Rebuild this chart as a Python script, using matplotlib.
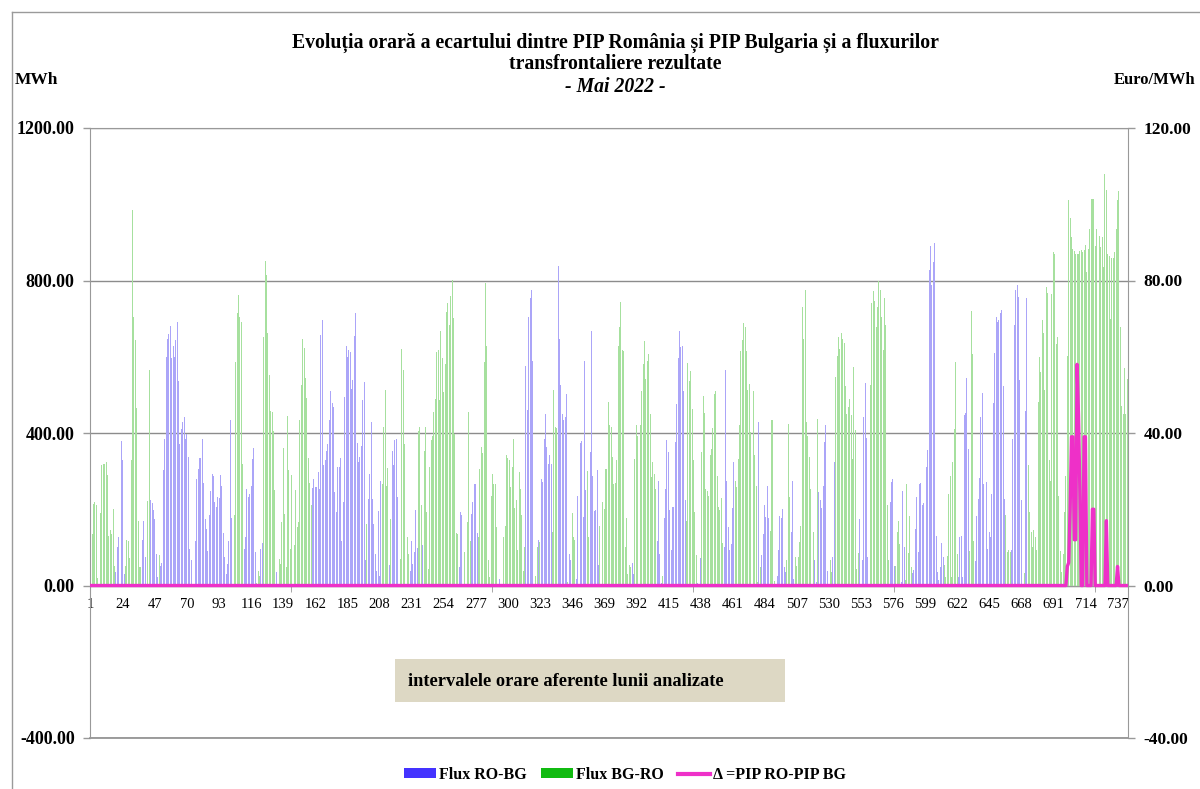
import matplotlib.pyplot as plt
import numpy as np
from matplotlib.lines import Line2D
from matplotlib.patches import Patch, Rectangle

# flux orar net pe zile (MWh): >0 = Flux BG-RO, <0 = Flux RO-BG
flux_zile = [
    [15, 135, 215, 220, 210, 20, 0, 190, 315, 320, 320, 325, 290, 130, 145, 135, 200, 52, -35, -100, -128, -205, -378, -330],
    [-29, 52, 120, 116, 72, 328, 985, 705, 644, 466, 170, 48, 48, -120, -170, -76, 0, 221, 565, -225, -216, -198, -175, -83],
    [-22, 81, -52, -58, -303, -385, -600, -647, -660, -680, -597, -628, -600, -644, -690, -537, -370, -411, -428, -441, -385, -398, -336, -96],
    [-66, 0, -4, -116, -280, -306, -334, -334, -385, -268, -175, -149, -90, -185, -249, -293, -286, -218, -205, -233, -229, -291, -262, -137],
    [-74, -31, -57, -118, -433, -177, -239, 184, 585, 716, 763, 703, 690, 319, -96, -127, -253, -232, -240, -262, -332, -361, -87, 6],
    [39, 24, -96, -111, 653, 852, 815, 663, 551, 457, 456, 404, 251, -35, 0, 70, 57, 166, 361, 188, 48, 444, 302, 96],
    [291, 99, 105, 251, 153, 166, 434, 527, 647, 623, 545, 492, 335, 268, 212, -256, -280, -258, -258, -297, -253, -658, -697, -315],
    [-330, -354, -370, -435, -511, -480, -469, -244, -192, -310, -310, -335, -116, -218, -494, -629, -600, -619, -612, -515, -539, -655, -714, -374],
    [-323, -338, -367, -487, -534, -67, 162, -226, -293, -428, -227, -162, -83, -39, -195, -24, -274, 267, 415, 513, 262, 309, -55, 175],
    [-352, -315, -382, -385, -232, 0, 70, 621, 565, 371, 118, 127, 83, -38, -118, -57, -87, -198, -99, 406, 415, 212, -107, 354],
    [415, 192, 44, 310, 382, 392, 454, 490, 612, 618, 487, 667, 597, 507, 581, 717, 740, 684, 760, 801, 702, 398, 137, 135],
    [-48, -192, -184, 0, 87, 179, 166, 456, 116, -188, -218, -267, -267, -137, 127, 306, 363, 347, 586, 793, 629, 67, 22, 236],
    [293, 267, 265, 153, 0, -17, 0, 0, 128, 157, 341, 335, 328, 258, 312, 385, 203, 223, 92, 297, 253, 184, 39, 102],
    [-577, -461, -705, -754, -774, -590, 0, 26, 100, -120, 114, -280, -271, -385, -450, -363, -319, -343, -319, 140, 513, 415, 413, -838],
    [-647, -526, -450, -434, -443, -503, 9, -83, -66, 190, 128, 120, -17, -236, -350, -373, -380, -179, -590, -251, 300, 128, -350, -667],
    [-286, -195, -198, -302, -55, 157, 0, 218, 201, 306, 306, 481, 420, 417, 338, 265, 268, 330, 629, 679, 743, 618, 614, 102],
    [177, 31, 54, 48, -58, -31, 332, 422, 391, 424, 422, 511, 581, 642, 542, 590, 607, 450, 284, 323, 293, 253, -116, -275],
    [-83, -6, 24, -177, -253, -382, -350, -197, -92, -205, -207, -376, -476, -597, -667, -625, -629, -511, -223, 169, 583, 536, 562, 463],
    [330, 192, 79, -6, 0, -72, 350, 498, 452, 253, 247, 236, 341, 358, 413, 503, 509, 288, 207, 198, 229, 111, -100, -564],
    [-275, -153, -94, -109, -204, -323, 275, 258, 332, 420, 616, 644, 688, 679, 616, 513, 529, 402, 476, 511, 341, 262, 9, -428],
    [48, -79, -135, -210, -179, -260, -177, 144, 433, 433, 13, 0, -26, -92, -181, -177, -201, -48, -35, 67, 424, 232, -140, -275],
    [-17, 74, 52, 74, 114, 157, 731, 647, 775, 428, 391, 336, 253, 166, 140, -66, -9, 437, -245, -223, -204, -260, -376, -420],
    [-38, 0, 66, 35, -74, -323, 546, 603, 653, 621, 662, 647, 635, 524, 450, 468, 489, 448, 332, 572, 408, 44, 85, -175],
    [-4, -67, -441, -530, -387, -76, 0, 526, 740, 772, 747, 679, 731, 800, 775, 703, 618, 754, 682, 210, 66, -218, -271, -280],
    [-52, 52, 140, 170, 109, -9, -249, -100, 15, 267, 85, 181, 48, -32, -41, -149, -233, -87, -265, -268, -210, -216, -258, -310],
    [-356, -828, -891, -787, -848, -898, -131, -35, -15, -48, -111, -74, 55, 22, 77, 240, 286, 22, 323, 411, 586, 83, -22, -127],
    [-131, -22, -446, -453, -544, -358, 90, 721, 607, 116, -64, -181, -227, -282, -443, -506, -267, -175, -271, -96, -140, -127, -240, -478],
    [-609, -705, -690, -697, -714, -723, -522, -227, 186, 87, 92, 87, -92, -385, -682, -775, -789, -758, -538, -223, 0, 32, -457, -754],
    [315, 192, 140, 100, 146, 127, 92, 481, 600, 559, 697, 663, 513, 782, 767, 328, 275, 765, 876, 870, 634, 651, 236, 90],
    [35, 83, 192, 288, 603, 1012, 964, 915, 883, 877, 870, 870, 870, 877, 879, 874, 879, 894, 822, 883, 935, 1014, 1014, 1014],
    [891, 936, 883, 918, 888, 915, 835, 1079, 1037, 870, 865, 699, 859, 860, 874, 936, 1010, 1034, 679, 472, 450, 570, 450, 542],
]

# delta PIP RO - PIP BG (Euro/MWh): zero in zilele 1-29, apoi zilele 30 si 31
delta_z30 = [0, 0, 0, 0, 5, 6, 20, 39, 39, 12, 12, 58, 45, 25, 0, 0, 39, 39, 0, 0, 0, 0, 20, 20]
delta_z31 = [0, 0, 0, 0, 0, 0, 0, 0, 17, 0, 0, 0, 0, 0, 0, 0, 5, 0, 0, 0, 0, 0, 0, 0]

net = np.array(flux_zile, dtype=float).ravel()
ore = np.arange(1, len(net) + 1)
ro_bg = np.where(net < 0, -net, 0)
bg_ro = np.where(net > 0, net, 0)
delta = np.array([0.0] * (24 * 29) + delta_z30 + delta_z31)

W, H = 1200, 789
plt.rcParams['font.family'] = ['Liberation Serif', 'DejaVu Serif']
plt.rcParams['font.weight'] = 'bold'

fig = plt.figure(figsize=(W / 100, H / 100), dpi=100)
ax = fig.add_axes([90 / W, 1 - 738 / H, (1128 - 90) / W, (738 - 128) / H])

ax.bar(ore, ro_bg, width=0.7, color='#aba5f8', linewidth=0, zorder=2)
ax.bar(ore, bg_ro, width=0.7, color='#a6e09e', linewidth=0, zorder=2)

ax.set_xlim(0.5, len(net) + 0.5)
ax.set_ylim(-400, 1200)
yt = [-400, 0, 400, 800, 1200]
ax.set_yticks(yt)
ax.set_yticklabels(['%.2f' % v for v in yt], fontsize=13)
ax.grid(axis='y', color='#8c8c8c', linewidth=1, zorder=0)
ax.set_axisbelow(True)
ax.axhline(-400, color='#8c8c8c', linewidth=1.2, clip_on=False, zorder=1)

ax.spines['bottom'].set_position(('data', 0))
for s in ax.spines.values():
    s.set_color('#999999')
ax.tick_params(axis='y', length=5, width=1, color='#999999', pad=6)

xt = list(range(1, len(net) + 1, 23))
ax.set_xticks(xt)
ax.set_xticklabels([str(v) for v in xt], fontsize=10.5, fontweight='normal')
ax.tick_params(axis='x', length=0, pad=9)
ax.set_xticks([144.5, 288.5, 432.5, 576.5, 720.5], minor=True)
ax.tick_params(axis='x', which='minor', length=4, color='#999999')

ax2 = ax.twinx()
ax2.plot(ore, delta, color='#ee30c8', linewidth=2.4, zorder=5)
ax2.set_ylim(-40, 120)
yt2 = [-40, 0, 40, 80, 120]
ax2.set_yticks(yt2)
ax2.set_yticklabels(['%.2f' % v for v in yt2], fontsize=12.5)
ax2.tick_params(axis='y', length=5, width=1, color='#999999', pad=6)
for s in ax2.spines.values():
    s.set_visible(False)

# titlu si unitati
fig.text(615 / W, 1 - 43 / H, 'Evoluția orară a ecartului dintre PIP România și PIP Bulgaria și a fluxurilor',
         ha='center', va='center', fontsize=14.2)
fig.text(615 / W, 1 - 64 / H, 'transfrontaliere rezultate', ha='center', va='center', fontsize=14.2)
fig.text(615 / W, 1 - 87 / H, '- Mai 2022 -', ha='center', va='center', fontsize=14.2, style='italic')
fig.text(36 / W, 1 - 80 / H, 'MWh', ha='center', va='center', fontsize=12.5)
fig.text(1155 / W, 1 - 80 / H, 'Euro/MWh', ha='center', va='center', fontsize=12)

# caseta de text
fig.patches.append(Rectangle((395 / W, 1 - 702 / H), 390 / W, 43 / H, transform=fig.transFigure,
                             facecolor='#ddd8c4', edgecolor='none'))
fig.text(408 / W, 1 - 681 / H, 'intervalele orare aferente lunii analizate', ha='left', va='center', fontsize=13.2)

# chenar exterior
fig.add_artist(Line2D([12 / W, 12 / W], [0, 1 - 12 / H], transform=fig.transFigure, color='#9a9a9a', linewidth=1))
fig.add_artist(Line2D([12 / W, 1], [1 - 12 / H, 1 - 12 / H], transform=fig.transFigure, color='#9a9a9a', linewidth=1))

handles = [Patch(facecolor='#4433ff', edgecolor='none'),
           Patch(facecolor='#11bb11', edgecolor='none'),
           Line2D([], [], color='#ee30c8', linewidth=3)]
fig.legend(handles, ['Flux RO-BG', 'Flux BG-RO', 'Δ =PIP RO-PIP BG'], loc='center',
           bbox_to_anchor=(625 / W, 1 - 775 / H), ncol=3, frameon=False, fontsize=11.5,
           handlelength=2.0, handleheight=0.6, handletextpad=0.2, columnspacing=0.9)

fig.savefig('out.png', dpi=100)
